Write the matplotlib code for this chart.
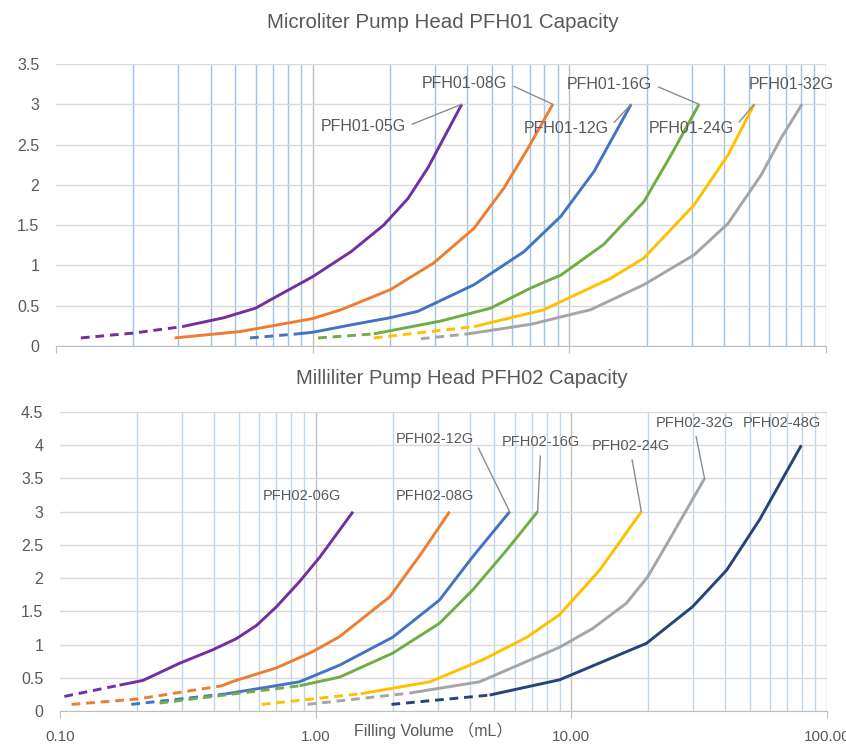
import matplotlib
matplotlib.use("Agg")
import matplotlib.pyplot as plt
from matplotlib.ticker import FixedLocator, NullFormatter, FixedFormatter

plt.rcParams['font.family'] = ['Liberation Sans', 'Noto Sans CJK SC', 'DejaVu Sans']

# --- PFH01 (microliter) curves: filling volume (mL) vs value ---
pfh01_names = ['PFH01-05G', 'PFH01-08G', 'PFH01-12G', 'PFH01-16G', 'PFH01-24G', 'PFH01-32G']
pfh01_x = [
    [0.125, 0.2, 0.31, 0.45, 0.6, 0.705, 1.0, 1.41, 1.89, 2.35, 2.81, 3.24, 3.81],
    [0.29, 0.524, 1.0, 1.29, 2.01, 2.96, 4.25, 5.56, 6.89, 8.62],
    [0.57, 0.87, 1.0, 1.4, 2.0, 2.57, 4.25, 6.65, 9.27, 12.5, 17.4],
    [1.05, 1.73, 3.16, 4.94, 7.08, 9.27, 13.6, 19.5, 24.9, 32.0],
    [1.73, 4.25, 7.95, 9.27, 14.5, 19.5, 30.6, 41.5, 52.5],
    [2.64, 4.02, 7.1, 10.1, 12.1, 19.5, 30.6, 41.5, 55.8, 66.8, 80.6],
]
pfh01_y = [
    [0.10, 0.16, 0.24, 0.35, 0.47, 0.595, 0.86, 1.17, 1.50, 1.83, 2.21, 2.58, 3.0],
    [0.10, 0.18, 0.34, 0.45, 0.70, 1.03, 1.46, 1.96, 2.45, 3.0],
    [0.10, 0.15, 0.17, 0.26, 0.35, 0.43, 0.76, 1.17, 1.61, 2.17, 3.0],
    [0.10, 0.15, 0.31, 0.47, 0.72, 0.88, 1.26, 1.79, 2.37, 3.0],
    [0.10, 0.24, 0.45, 0.55, 0.84, 1.09, 1.75, 2.37, 3.0],
    [0.09, 0.15, 0.27, 0.39, 0.45, 0.76, 1.13, 1.52, 2.12, 2.58, 3.0],
]
pfh01_dash = [2, 0, 1, 1, 1, 1]   # number of leading dashed segments

# --- PFH02 (milliliter) curves ---
pfh02_names = ['PFH02-06G', 'PFH02-08G', 'PFH02-12G', 'PFH02-16G', 'PFH02-24G', 'PFH02-32G', 'PFH02-48G']
pfh02_x = [
    [0.104, 0.171, 0.211, 0.294, 0.395, 0.49, 0.588, 0.703, 0.866, 1.04, 1.4],
    [0.111, 0.2, 0.43, 0.47, 0.703, 0.97, 1.24, 1.95, 2.62, 3.34],
    [0.19, 0.45, 0.865, 1.24, 2.0, 3.05, 4.11, 5.74],
    [0.245, 0.865, 1.24, 2.0, 3.05, 4.11, 5.58, 7.38],
    [0.615, 1.5, 2.8, 4.5, 6.7, 9.0, 12.9, 18.8],
    [0.93, 2.33, 4.38, 9.0, 12.1, 16.4, 19.9, 24.2, 33.2],
    [1.98, 4.79, 9.0, 19.7, 29.8, 40.5, 54.5, 79.4],
]
pfh02_y = [
    [0.22, 0.39, 0.46, 0.72, 0.92, 1.09, 1.29, 1.57, 1.95, 2.32, 3.0],
    [0.10, 0.18, 0.38, 0.44, 0.65, 0.89, 1.12, 1.72, 2.40, 3.0],
    [0.10, 0.26, 0.44, 0.69, 1.11, 1.67, 2.32, 3.0],
    [0.12, 0.38, 0.51, 0.87, 1.32, 1.82, 2.42, 3.0],
    [0.10, 0.26, 0.44, 0.77, 1.11, 1.45, 2.12, 3.0],
    [0.10, 0.27, 0.44, 0.96, 1.24, 1.62, 2.02, 2.58, 3.5],
    [0.10, 0.24, 0.47, 1.02, 1.57, 2.12, 2.88, 4.0],
]
pfh02_dash = [1, 2, 1, 1, 1, 1, 1]

colors01 = ['#7030A0', '#ED7D31', '#4472C4', '#70AD47', '#FFC000', '#A5A5A5']
colors02 = ['#7030A0', '#ED7D31', '#4472C4', '#70AD47', '#FFC000', '#A5A5A5', '#264478']

# label anchors (data coords) and leader start point on the text box (None = no leader)
lab01_x = [1.57, 3.91, 9.7, 14.3, 29.8, 73.1]
lab01_y = [2.72, 3.26, 2.70, 3.25, 2.70, 3.25]
lab01_rel = [(1, 0.5), (1, 0.5), (1, 0.5), (1, 0.5), (1, 0.5), None]
lab02_x = [0.88, 2.92, 2.92, 7.59, 17.1, 30.4, 66.4]
lab02_y = [3.24, 3.24, 4.10, 4.05, 3.99, 4.34, 4.34]
lab02_rel = [None, None, (1, 0.5), (0.5, 0), (0.5, 0), (0.5, 0), None]

xticks = [0.1, 1, 10, 100]
xticklabels = ['0.10', '1.00', '10.00', '100.00']
minor = [m * d for d in (0.1, 1, 10) for m in range(2, 10)]

TXT = '#595959'


def style_axis(ax, ymax, minor_color, show_labels):
    ax.set_xscale('log')
    ax.set_xlim(0.1, 100)
    ax.set_ylim(0, ymax)
    ax.xaxis.set_major_locator(FixedLocator(xticks))
    ax.xaxis.set_minor_locator(FixedLocator(minor))
    ax.xaxis.set_minor_formatter(NullFormatter())
    if show_labels:
        ax.xaxis.set_major_formatter(FixedFormatter(xticklabels))
    else:
        ax.xaxis.set_major_formatter(NullFormatter())
    yt = [i * 0.5 for i in range(int(ymax / 0.5) + 1)]
    ax.set_yticks(yt)
    ax.set_yticklabels(['%g' % v for v in yt])
    ax.tick_params(axis='y', length=0, labelsize=11.5, labelcolor=TXT, pad=12)
    ax.tick_params(axis='x', which='major', length=5, color='#BFBFBF',
                   labelsize=11, labelcolor=TXT, pad=9)
    ax.tick_params(axis='x', which='minor', length=0)
    ax.grid(True, axis='y', color='#D9D9D9', lw=1)
    ax.grid(True, axis='x', which='minor', color=minor_color, lw=1)
    ax.grid(True, axis='x', which='major', color='#BFBFBF', lw=1)
    ax.xaxis.get_major_ticks()[0].gridline.set_visible(False)
    for s in ('left', 'top', 'right'):
        ax.spines[s].set_visible(False)
    ax.spines['bottom'].set_color('#BFBFBF')
    ax.set_axisbelow(True)


def draw_curves(ax, xs, ys, dashes, colors):
    for x, y, nd, c in zip(xs, ys, dashes, colors):
        if nd > 0:
            ax.plot(x[:nd + 1], y[:nd + 1], color=c, lw=2.1, ls=(0, (3, 2)),
                    dash_capstyle='butt')
        ax.plot(x[nd:], y[nd:], color=c, lw=2.1, solid_joinstyle='round',
                solid_capstyle='butt')


def draw_labels(ax, names, xs, ys, lx, ly, rels, size):
    for name, x, y, tx, ty, rel in zip(names, xs, ys, lx, ly, rels):
        if rel is None:
            ax.text(tx, ty, name, ha='center', va='center', fontsize=size, color=TXT)
        else:
            ax.annotate(name, xy=(x[-1], y[-1]), xytext=(tx, ty), ha='center',
                        va='center', fontsize=size, color=TXT,
                        arrowprops=dict(arrowstyle='-', color='#8C8C8C', lw=1,
                                        shrinkA=3, shrinkB=0, relpos=rel))


fig = plt.figure(figsize=(8.46, 7.45), dpi=100)
ax1 = fig.add_axes([0.0662, 0.5356, 0.9102, 0.3785])
ax2 = fig.add_axes([0.0709, 0.0456, 0.9066, 0.4013])

style_axis(ax1, 3.5, '#9DC3E6', False)
style_axis(ax2, 4.5, '#BDD7EE', True)

draw_curves(ax1, pfh01_x, pfh01_y, pfh01_dash, colors01)
draw_curves(ax2, pfh02_x, pfh02_y, pfh02_dash, colors02)
draw_labels(ax1, pfh01_names, pfh01_x, pfh01_y, lab01_x, lab01_y, lab01_rel, 11.5)
draw_labels(ax2, pfh02_names, pfh02_x, pfh02_y, lab02_x, lab02_y, lab02_rel, 10.5)

fig.text(443 / 846, 1 - 22 / 745, 'Microliter Pump Head PFH01 Capacity',
         ha='center', va='center', fontsize=14.8, color=TXT)
fig.text(462 / 846, 1 - 378 / 745, 'Milliliter Pump Head PFH02 Capacity',
         ha='center', va='center', fontsize=14.5, color=TXT)
fig.text(433 / 846, 1 - 731 / 745, 'Filling Volume （mL）',
         ha='center', va='center', fontsize=11.5, color=TXT)

fig.savefig('out.png', dpi=100)
